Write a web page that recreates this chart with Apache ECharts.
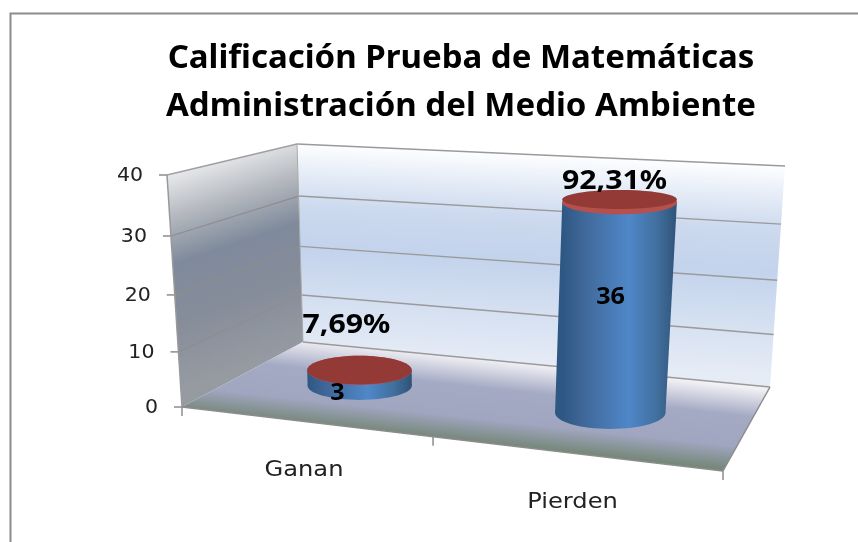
<!DOCTYPE html>
<html>
<head>
<meta charset="utf-8">
<style>html,body{margin:0;padding:0;background:#fff}#c{width:858px;height:542px}</style>
<script src="https://cdn.jsdelivr.net/npm/echarts@6/dist/echarts.min.js"></script>
</head>
<body>
<div id="c"></div>
<script>
const categories = ['Ganan', 'Pierden'];
const values = [3, 36];
const percentLabels = ['7,69%', '92,31%'];
const yTicks = [0, 10, 20, 30, 40];
const titleLines = ['Calificación Prueba de Matemáticas', 'Administración del Medio Ambiente'];

// Projection of the plot box (decorative scene geometry)
const A = [182, 407], B = [723, 471], C = [303, 342], D = [770, 387];
const E = [167, 175], H = [745, 203], F = [297, 144], G = [785, 166];
const W = 1.07;
const lerp = (p, q, t) => [p[0] + (q[0] - p[0]) * t, p[1] + (q[1] - p[1]) * t];
const warp = (x, w) => x / (x + (1 - x) * w);
function bil(a, b, c, d, u, dp) {
  const uu = warp(u, 1.155), t = warp(dp, 0.95);
  return lerp(lerp(a, b, uu), lerp(c, d, uu), t);
}
function project(u, v, dp) {
  const b = bil(A, B, C, D, u, dp), t = bil(E, H, F, G, u, dp);
  return lerp(b, t, warp(v, W));
}
const chart = echarts.init(document.getElementById('c'), null, { renderer: 'canvas' });
const GRID = { left: 100, top: 100, width: 600, height: 300 };
const normU = (x) => (x - GRID.left) / GRID.width;
const normV = (y) => (GRID.top + GRID.height - y) / GRID.height;
const fontUI = '"DejaVu Sans", sans-serif';
const fontBold = '"Noto Sans", sans-serif';

function poly(pts, fill, z) {
  return { type: 'polygon', z2: z || 0, shape: { points: pts }, style: { fill: fill, stroke: null }, silent: true };
}
function line(p, q, color, w, z) {
  return { type: 'line', z2: z || 1, shape: { x1: p[0], y1: p[1], x2: q[0], y2: q[1] }, style: { stroke: color, lineWidth: w }, silent: true };
}
function lg(x1, y1, x2, y2, stops) {
  return new echarts.graphic.LinearGradient(x1, y1, x2, y2, stops.map(s => ({ offset: s[0], color: s[1] })), true);
}
function txt(t, x, y, font, fill, scaleX, align, z) {
  return { type: 'text', z2: z || 20, x: x, y: y, scaleX: scaleX || 1, silent: true,
    style: { text: t, fill: fill, font: font, align: align || 'center', verticalAlign: 'middle' } };
}
function sceneItem(params, api) {
  const kids = [];
  kids.push(poly([F, G, D, C], lg(545, 155, 535, 365, [[0, '#fdfeff'], [0.3, '#ccd9ee'], [0.5, '#c3d3ec'], [1, '#e6ecf6']])));
  kids.push(poly([E, F, C, A], lg(215, 145, 285, 355, [[0, '#f8f8f9'], [0.25, '#b4b8be'], [0.45, '#7f8a9c'], [0.7, '#868d9a'], [1, '#969ba2']])));
  kids.push(poly([C, D, B, A], lg(497, 360, 488, 443, [[0, '#f2f2f5'], [0.35, '#a4a9c4'], [0.72, '#a0a6c0'], [1, '#76887a']])));
  const gridColor = '#9a9a9a';
  yTicks.forEach(t => {
    const v = api.coord([0, t]);
    const nv = normV(v[1]);
    const a = project(0, nv, 0), b = project(0, nv, 1), c = project(1, nv, 1);
    kids.push(line(b, c, gridColor, 1.4, 2));
    if (t > 0 && t < 40) kids.push(line(a, b, '#8d8d8d', 1.2, 2));
    else if (t === 40) kids.push(line(a, b, '#a0a0a0', 1.4, 2));
    kids.push(line([a[0] - 8, a[1]], a, '#8c8c8c', 1.5, 3));
    kids.push(txt(String(t), a[0] - 24, a[1] + 1, '19px ' + fontUI, '#222', 1.08, 'right', 4));
  });
  kids.push(line(E, A, '#999', 1.5, 3));
  kids.push(line(F, C, '#aaa', 1, 2));
  kids.push(line(A, B, '#8c8c8c', 1.5, 3));
  kids.push(line(B, D, '#8c8c8c', 1.5, 3));
  [0, 0.5, 1].forEach(u => {
    const p = project(u, 0, 0);
    kids.push(line(p, [p[0], p[1] + 9], '#8c8c8c', 1.5, 3));
  });
  return { type: 'group', children: kids };
}
function cylinderItem(params, api) {
  const i = api.value(0), val = api.value(1);
  const c0 = api.coord([i, 0]), c1 = api.coord([i, val]);
  const u = normU(c0[0]), nv = normV(c1[1]);
  const base = project(u, 0, 0.5), top = project(u, nv, 0.5);
  base[0] += 3; top[0] += 3;
  const h = base[1] - top[1];
  const rxB = 52 + (base[1] - 385) * 0.115;
  const rxT = rxB + h * 0.01;
  const ryB = 14 + (base[1] - 385) * 0.077;
  const ryT = 12 + (top[1] - 200) * 0.015;
  const rim = h * 0.012;
  const side = lg(top[0] - rxT, 0, top[0] + rxT, 0, [[0, '#2f5783'], [0.2, '#40699a'], [0.58, '#4f87c9'], [0.82, '#42709f'], [1, '#2f5379']]);
  const kids = [
    { type: 'ellipse', z2: 10, shape: { cx: base[0], cy: base[1], rx: rxB, ry: ryB }, style: { fill: side }, silent: true },
    poly([[top[0] - rxT, top[1]], [top[0] + rxT, top[1]], [base[0] + rxB, base[1]], [base[0] - rxB, base[1]]], side, 10),
    { type: 'ellipse', z2: 11, shape: { cx: top[0], cy: top[1], rx: rxT, ry: ryT }, style: { fill: '#b5504d' }, silent: true },
    { type: 'ellipse', z2: 12, shape: { cx: top[0], cy: top[1] - rim, rx: rxT, ry: ryT - rim }, style: { fill: '#933a37' }, silent: true }
  ];
  kids.push(txt(String(val), top[0] + (i === 0 ? -22 : -9), i === 0 ? base[1] + 7 : base[1] - 116, 'bold 24px ' + fontBold, '#000', 1.05));
  kids.push(txt(percentLabels[i], top[0] + (i === 0 ? -13 : -5), top[1] - (i === 0 ? 45 : 21), 'bold 27px ' + fontBold, '#000', 1.12));
  const lab = i === 0 ? [304, 471] : [572.5, 503];
  kids.push(txt(categories[i], lab[0], lab[1], '21px ' + fontUI, '#222', 1.15));
  return { type: 'group', children: kids };
}
chart.setOption({
  animation: false,
  backgroundColor: '#fff',
  title: {
    text: titleLines.join('\n'), left: 456, top: 30, textAlign: 'center',
    textStyle: { fontFamily: '"Noto Sans", sans-serif', fontWeight: 'bold', fontSize: 33, lineHeight: 48, color: '#000' }
  },
  graphic: [{
    type: 'polyline', silent: true,
    shape: { points: [[10.5, 560], [10.5, 13.5], [870, 13.5]] },
    style: { stroke: '#8c8c8c', lineWidth: 2, fill: null }
  }],
  grid: GRID,
  xAxis: { type: 'category', data: categories, show: false },
  yAxis: { type: 'value', min: 0, max: 40, interval: 10, show: false },
  series: [
    { type: 'custom', coordinateSystem: 'cartesian2d', renderItem: sceneItem, data: [[0, 0]], clip: false, z: 1, silent: true },
    { type: 'custom', coordinateSystem: 'cartesian2d', renderItem: cylinderItem, data: values.map((v, i) => [i, v]), clip: false, z: 2, silent: true, encode: { x: 0, y: 1 } }
  ]
});
</script>
</body>
</html>
